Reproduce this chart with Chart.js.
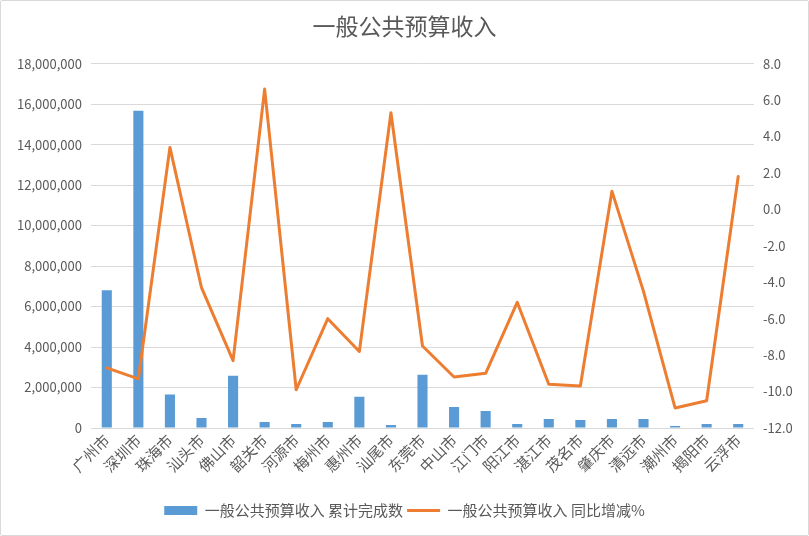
<!DOCTYPE html>
<html>
<head>
<meta charset="utf-8">
<script src="https://cdn.jsdelivr.net/npm/chart.js@4/dist/chart.umd.min.js"></script>
<style>
html,body{margin:0;padding:0;background:#fff;}
#wrap{position:absolute;left:0;top:0;width:809px;height:536px;box-sizing:border-box;border:1px solid #d9d9d9;border-radius:2px;}
canvas{display:block;}
</style>
</head>
<body>
<div id="wrap"><canvas id="c" width="807" height="534" style="width:807px;height:534px"></canvas></div>
<script>
const categories = ["广州市","深圳市","珠海市","汕头市","佛山市","韶关市","河源市","梅州市","惠州市","汕尾市","东莞市","中山市","江门市","阳江市","湛江市","茂名市","肇庆市","清远市","潮州市","揭阳市","云浮市"];
const cumulativeRevenue = [6800000,15670000,1650000,500000,2580000,300000,200000,300000,1540000,150000,2630000,1040000,840000,200000,450000,400000,450000,450000,100000,200000,200000];
const yoyChange = [-8.7,-9.3,3.4,-4.3,-8.3,6.6,-9.9,-6.0,-7.8,5.3,-7.5,-9.2,-9.0,-5.1,-9.6,-9.7,1.0,-4.5,-10.9,-10.5,1.8];
const barLabel = "一般公共预算收入 累计完成数";
const lineLabel = "一般公共预算收入 同比增减%";
const titleText = "一般公共预算收入";
</script>
<script>
const FONT = "'Noto Sans CJK SC','Noto Sans',sans-serif";
const GRAY = '#595959';
new Chart(document.getElementById('c'), {
  data: {
    labels: categories,
    datasets: [
      {
        type: 'bar',
        label: barLabel,
        data: cumulativeRevenue,
        backgroundColor: '#5B9BD5',
        borderWidth: 0,
        yAxisID: 'y',
        order: 1,
        pointStyle: 'rect',
        barPercentage: 0.32,
        categoryPercentage: 1
      },
      {
        type: 'line',
        label: lineLabel,
        data: yoyChange,
        borderColor: '#ED7D31',
        backgroundColor: '#ED7D31',
        borderWidth: 3,
        borderJoinStyle: 'round',
        borderCapStyle: 'round',
        pointRadius: 0,
        pointStyle: 'line',
        tension: 0,
        yAxisID: 'y1',
        order: 0
      }
    ]
  },
  options: {
    responsive: false,
    animation: false,
    devicePixelRatio: 1,
    layout: { padding: { left: 0, right: 0, top: 0, bottom: 7 } },
    plugins: {
      title: {
        display: true,
        text: titleText,
        color: GRAY,
        font: { family: FONT, size: 23, weight: 'normal' },
        padding: { top: 11, bottom: 24 }
      },
      legend: {
        position: 'bottom',
        labels: {
          usePointStyle: true,
          pointStyleWidth: 33,
          boxHeight: 9,
          color: GRAY,
          font: { family: FONT, size: 15 },
          padding: 4,
          sort: (a, b) => a.datasetIndex - b.datasetIndex
        }
      },
      tooltip: { enabled: false }
    },
    scales: {
      x: {
        grid: { display: false, drawTicks: false },
        border: { display: false },
        ticks: {
          color: GRAY,
          font: { family: FONT, size: 15 },
          minRotation: 45,
          maxRotation: 45,
          autoSkip: false,
          padding: 3
        },
        afterFit: s => { s.height = 71; }
      },
      y: {
        position: 'left',
        min: 0,
        max: 18000000,
        grid: { color: '#d9d9d9', lineWidth: 1, drawTicks: false },
        border: { display: false },
        ticks: {
          stepSize: 2000000,
          color: GRAY,
          font: { family: FONT, size: 13 },
          padding: 9,
          callback: v => Number(v).toLocaleString('en-US')
        },
        afterFit: s => { s.width = 90; }
      },
      y1: {
        position: 'right',
        min: -12,
        max: 8,
        grid: { display: false, drawTicks: false },
        border: { display: false },
        ticks: {
          stepSize: 2,
          color: GRAY,
          font: { family: FONT, size: 13 },
          padding: 9,
          callback: v => Number(v).toFixed(1)
        },
        afterFit: s => { s.width = 54; }
      }
    }
  }
});
</script>
</body>
</html>
